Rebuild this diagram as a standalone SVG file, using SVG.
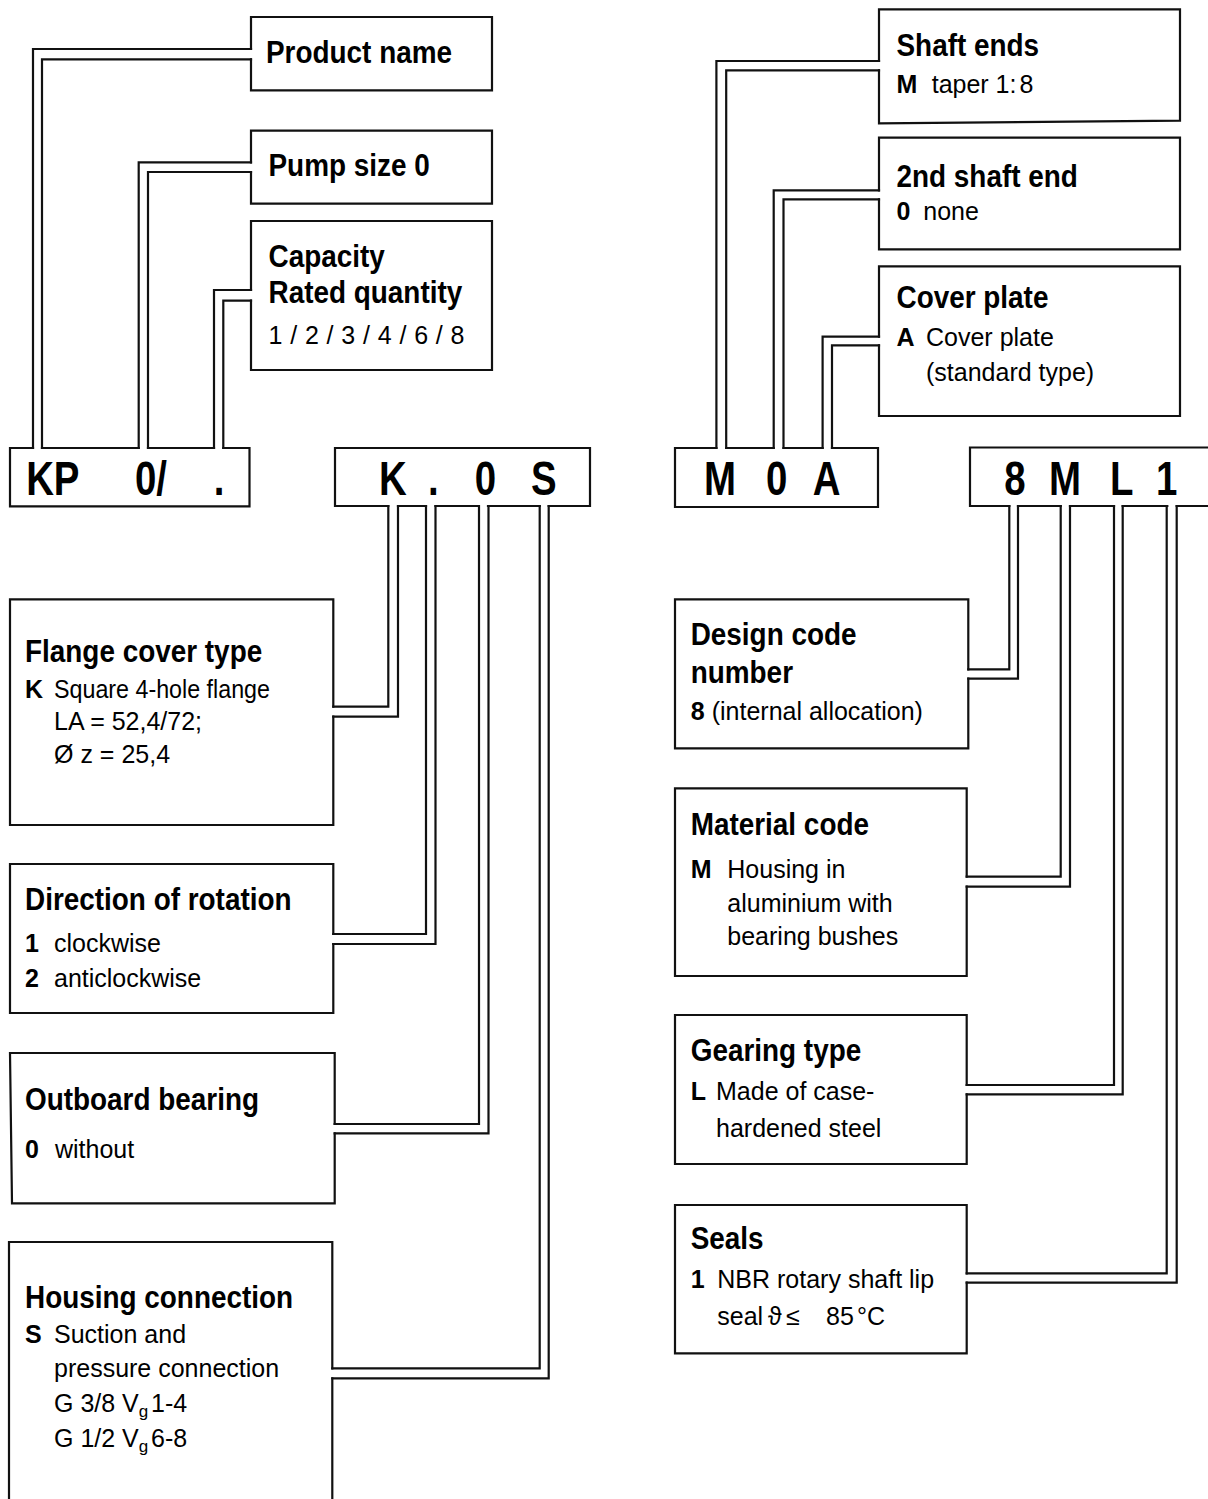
<svg xmlns="http://www.w3.org/2000/svg" width="1208" height="1499" viewBox="0 0 1208 1499">
<style>
.b{fill:none;stroke:#111;stroke-width:2.2;stroke-linecap:square;stroke-linejoin:miter}
.h{font-family:"Liberation Sans",Arial,sans-serif;font-weight:bold;font-size:31px;fill:#000}
.t{font-family:"Liberation Sans",Arial,sans-serif;font-size:25px;fill:#000}
.tb{font-family:"Liberation Sans",Arial,sans-serif;font-weight:bold;font-size:25px;fill:#000}
.c{font-family:"Liberation Sans",Arial,sans-serif;font-weight:bold;font-size:48px;text-anchor:middle;fill:#000}
</style>
<rect width="1208" height="1499" fill="#fff"/>
<g id="connectors" class="b">
<path d="M251,49 H33 V448 M251,59.3 H42 V448"/>
<path d="M251,162.3 H138.7 V448 M251,172 H148 V448"/>
<path d="M251,290 H214 V448 M251,300.7 H223.3 V448"/>
<path d="M333.3,706.7 H388.3 V506 M333.3,716.7 H398 V506"/>
<path d="M333.3,934 H426 V506 M333.3,944 H435.5 V506"/>
<path d="M334.7,1124 H479 V506 M334.7,1133.3 H488.5 V506"/>
<path d="M332.3,1368.3 H539.7 V506 M332.3,1378.3 H548.7 V506"/>
<path d="M879,61 H716.4 V448 M879,70.3 H726.2 V448"/>
<path d="M879,190.3 H773.7 V448 M879,199.3 H783.5 V448"/>
<path d="M879,336.7 H822.6 V448 M879,345.3 H832 V448"/>
<path d="M968.3,669.3 H1009.3 V506 M968.3,678.7 H1018 V506"/>
<path d="M966.7,876.7 H1060.7 V506 M966.7,886.7 H1070 V506"/>
<path d="M966.7,1085 H1114 V506 M966.7,1094.3 H1122.7 V506"/>
<path d="M966.7,1273.3 H1166.7 V506 M966.7,1282.7 H1176.7 V506"/>
</g>
<g id="n-product-name">
<path class="b" d="M251,49 V17 H492 V90.3 H251 V59.3"/>
<text class="h" transform="translate(266 63) scale(.9 1)">Product name</text>
</g>
<g id="n-pump-size">
<path class="b" d="M251,162.3 V130.7 H492 V203.7 H251 V172"/>
<text class="h" transform="translate(268.5 176) scale(.9 1)">Pump size 0</text>
</g>
<g id="n-capacity">
<path class="b" d="M251,290 V221 H492 V370 H251 V300.7"/>
<text class="h" transform="translate(268.5 266.5) scale(.9 1)">Capacity</text>
<text class="h" transform="translate(268.5 302.7) scale(.9 1)">Rated quantity</text>
<text class="t" x="268.5" y="344" textLength="196" lengthAdjust="spacing">1 / 2 / 3 / 4 / 6 / 8</text>
</g>
<g id="n-code1">
<path class="b" d="M33,448 H10 V506.3 H249.5 V448 H223.3 M214,448 H148 M138.7,448 H42"/>
<text class="c" transform="translate(52.8 495) scale(.8 1)">KP</text>
<text class="c" transform="translate(151 495) scale(.8 1)">0/</text>
<text class="c" transform="translate(219 495) scale(.8 1)">.</text>
</g>
<g id="n-code2">
<path class="b" d="M335,506 V448 H590 V506 H548.7 M539.7,506 H488 M478.7,506 H435.5 M426,506 H398 M388.3,506 H335"/>
<text class="c" transform="translate(392.8 495) scale(.8 1)">K</text>
<text class="c" transform="translate(433.3 495) scale(.8 1)">.</text>
<text class="c" transform="translate(485.3 495) scale(.8 1)">0</text>
<text class="c" transform="translate(543.7 495) scale(.8 1)">S</text>
</g>
<g id="n-flange">
<path class="b" d="M333.3,706.7 V599.3 H10 V825 H333.3 V716.7"/>
<text class="h" transform="translate(25 662) scale(.9 1)">Flange cover type</text>
<text class="tb" x="25" y="697.5">K</text>
<text class="t" x="54" y="697.5" textLength="216" lengthAdjust="spacingAndGlyphs">Square 4-hole flange</text>
<text class="t" x="54" y="730">LA = 52,4/72;</text>
<text class="t" x="54" y="762.5">Ø z = 25,4</text>
</g>
<g id="n-direction">
<path class="b" d="M333.3,934 V864 H10 V1013 H333.3 V944"/>
<text class="h" transform="translate(25 910) scale(.9 1)">Direction of rotation</text>
<text class="tb" x="25" y="951.7">1</text>
<text class="t" x="54" y="951.7">clockwise</text>
<text class="tb" x="25" y="986.7">2</text>
<text class="t" x="54" y="986.7">anticlockwise</text>
</g>
<g id="n-outboard">
<path class="b" d="M334.7,1124 V1053 H10 L12,1203.4 H334.7 V1133.3"/>
<text class="h" transform="translate(25 1110) scale(.9 1)">Outboard bearing</text>
<text class="tb" x="25" y="1158.3">0</text>
<text class="t" x="55" y="1158.3">without</text>
</g>
<g id="n-housing">
<path class="b" d="M332.3,1368.3 V1242 H9 V1502 M332.3,1378.3 V1502"/>
<text class="h" transform="translate(25 1308) scale(.9 1)">Housing connection</text>
<text class="tb" x="25" y="1343.3">S</text>
<text class="t" x="54" y="1343.3">Suction and</text>
<text class="t" x="54" y="1377">pressure connection</text>
<text class="t" x="54" y="1411.7">G 3/8 V<tspan font-size="17" dy="5">g</tspan><tspan x="151" dy="-5">1-4</tspan></text>
<text class="t" x="54" y="1446.7">G 1/2 V<tspan font-size="17" dy="5">g</tspan><tspan x="151" dy="-5">6-8</tspan></text>
</g>
<g id="n-shaft-ends">
<path class="b" d="M879,61 V9.3 H1180 V120.7 L879,123.3 V70.3"/>
<text class="h" transform="translate(896.5 56) scale(.9 1)">Shaft ends</text>
<text class="tb" x="896.5" y="93.3">M</text>
<text class="t" x="931.7" y="93.3">taper 1:<tspan dx="3">8</tspan></text>
</g>
<g id="n-second-shaft">
<path class="b" d="M879,190.3 V137.7 H1180 V249.3 H879 V199.3"/>
<text class="h" transform="translate(896.5 186.7) scale(.9 1)">2nd shaft end</text>
<text class="tb" x="896.5" y="220">0</text>
<text class="t" x="923.3" y="220">none</text>
</g>
<g id="n-cover-plate">
<path class="b" d="M879,336.7 V266.3 H1180 V416 H879 V345.3"/>
<text class="h" transform="translate(896.5 308.3) scale(.9 1)">Cover plate</text>
<text class="tb" x="896.5" y="345.7">A</text>
<text class="t" x="926" y="345.7">Cover plate</text>
<text class="t" x="926" y="381">(standard type)</text>
</g>
<g id="n-code3">
<path class="b" d="M716.4,448 H675 V507 H878 V448 H832 M822.6,448 H783.5 M773.7,448 H726.2"/>
<text class="c" transform="translate(720 495) scale(.8 1)">M</text>
<text class="c" transform="translate(776.7 495) scale(.8 1)">0</text>
<text class="c" transform="translate(826.6 495) scale(.8 1)">A</text>
</g>
<g id="n-code4">
<path class="b" d="M1215,447.5 H970 V506 H1009.3 M1018,506 H1060.7 M1070,506 H1114 M1122.7,506 H1167.3 M1176.7,506 H1215"/>
<text class="c" transform="translate(1015 495) scale(.8 1)">8</text>
<text class="c" transform="translate(1065 495) scale(.8 1)">M</text>
<text class="c" transform="translate(1121.7 495) scale(.8 1)">L</text>
<text class="c" transform="translate(1166.7 495) scale(.8 1)">1</text>
</g>
<g id="n-design-code">
<path class="b" d="M968.3,669.3 V599.3 H675 V748.3 H968.3 V678.7"/>
<text class="h" transform="translate(690.7 645) scale(.9 1)">Design code</text>
<text class="h" transform="translate(690.7 682.7) scale(.9 1)">number</text>
<text class="tb" x="690.7" y="720">8</text>
<text class="t" x="711.7" y="720">(internal allocation)</text>
</g>
<g id="n-material">
<path class="b" d="M966.7,876.7 V788.3 H675 V976 H966.7 V886.7"/>
<text class="h" transform="translate(690.7 835) scale(.9 1)">Material code</text>
<text class="tb" x="690.7" y="878.3">M</text>
<text class="t" x="727.3" y="878.3">Housing in</text>
<text class="t" x="727.3" y="911.7">aluminium with</text>
<text class="t" x="727.3" y="945">bearing bushes</text>
</g>
<g id="n-gearing">
<path class="b" d="M966.7,1085 V1015 H675 V1164 H966.7 V1094.3"/>
<text class="h" transform="translate(690.7 1061) scale(.9 1)">Gearing type</text>
<text class="tb" x="690.7" y="1100">L</text>
<text class="t" x="716" y="1100">Made of case-</text>
<text class="t" x="716" y="1137.3">hardened steel</text>
</g>
<g id="n-seals">
<path class="b" d="M966.7,1273.3 V1205 H675 V1353.3 H966.7 V1282.7"/>
<text class="h" transform="translate(690.7 1249.3) scale(.9 1)">Seals</text>
<text class="tb" x="690.7" y="1288.3">1</text>
<text class="t" x="717.3" y="1288.3">NBR rotary shaft lip</text>
<text class="t" x="717.3" y="1325">seal <tspan x="768">ϑ</tspan><tspan x="786">≤</tspan><tspan x="826">85</tspan><tspan x="857">°C</tspan></text>
</g>
</svg>
